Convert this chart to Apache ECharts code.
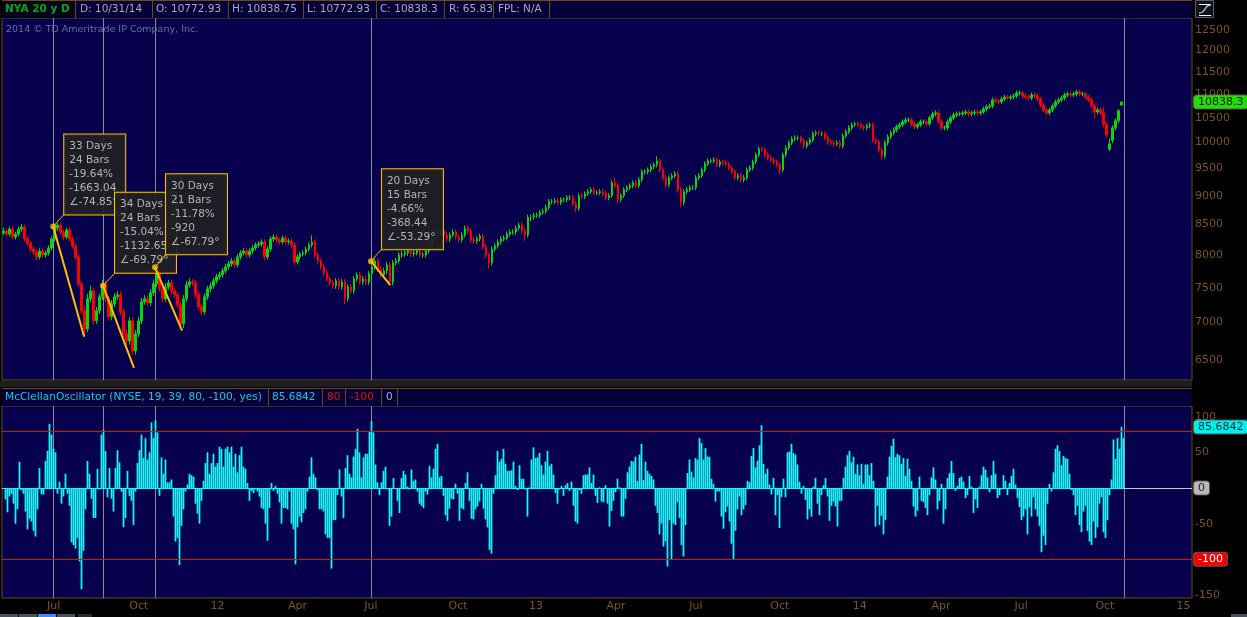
<!DOCTYPE html>
<html><head><meta charset="utf-8"><style>html,body{margin:0;padding:0;background:#000;overflow:hidden}#c{width:1247px;height:617px}</style>
<script src="https://cdn.jsdelivr.net/npm/echarts@6/dist/echarts.min.js"></script></head><body><div id="c"></div>
<script>
const closes=[8391,8342,8424,8293,8342,8424,8458,8260,8195,8099,
8051,7972,8067,8003,8035,8115,8260,8441,8491,8375,
8293,8408,8260,8147,7972,7558,7165,6913,7337,7454,
7024,7165,7366,7558,7337,7080,7265,7366,7395,7151,
6846,6750,7024,6618,6846,7024,7294,7337,7279,7425,
7558,7755,7484,7337,7513,7573,7454,7395,7251,6982,
7337,7543,7587,7573,7395,7222,7151,7366,7484,7528,
7603,7664,7694,7755,7817,7863,7910,7848,7972,8035,
8067,8003,8067,8115,8163,8179,8212,7972,8099,8260,
8293,8244,8212,8277,8212,8228,8163,7894,7972,8019,
8035,8099,8163,8212,8003,7910,7817,7725,7633,7573,
7528,7603,7513,7587,7337,7513,7454,7633,7694,7587,
7633,7587,7709,7817,7910,7786,7694,7755,7848,7587,
7879,7910,8003,8019,8035,8067,8019,8035,8067,8003,
8003,8067,8131,8260,8342,8375,8391,8326,8260,8326,
8375,8293,8244,8326,8441,8391,8244,8228,8260,8309,
8131,8003,7879,8099,8147,8212,8260,8277,8342,8375,
8375,8441,8491,8391,8326,8625,8625,8659,8659,8709,
8726,8794,8896,8896,8913,8879,8931,8931,8966,8966,
8862,8777,9002,8984,9038,9073,9109,9055,9055,9073,
9038,8966,9002,9235,9181,8931,9002,9109,9145,9181,
9235,9181,9290,9438,9438,9475,9532,9569,9645,9475,
9327,9199,9327,9364,9401,9109,8879,9073,9109,9145,
9145,9327,9364,9475,9588,9645,9645,9664,9569,9626,
9607,9588,9513,9438,9327,9364,9290,9327,9475,9513,
9626,9760,9876,9857,9760,9702,9664,9626,9569,9475,
9760,9896,9995,10074,10094,10094,10035,9935,9995,10054,
10174,10195,10174,10174,10094,10015,9995,9975,9995,9935,
10134,10215,10296,10358,10378,10358,10317,10296,10337,10358,
10054,10015,9857,9741,9995,10114,10195,10255,10317,10358,
10419,10460,10460,10378,10317,10358,10419,10419,10378,10502,
10585,10606,10419,10296,10296,10419,10502,10564,10585,10585,
10606,10627,10585,10606,10627,10606,10627,10690,10733,10754,
10882,10860,10839,10903,10946,10925,10946,10968,11033,11033,
10968,10946,10925,10990,10968,10903,10775,10669,10606,10669,
10754,10839,10882,10925,10990,11012,10990,11012,11055,11012,
11012,10946,10882,10754,10627,10669,10606,10358,10154,9975,
10296,10440,10650,10838.3];
const opens=[8360,8391,8342,8424,8293,8342,8424,8458,8260,8195,
8099,8051,7972,8067,8003,8035,8115,8260,8441,8491,
8375,8293,8408,8260,8147,7972,7558,7165,6913,7337,
7454,7024,7165,7366,7558,7337,7080,7265,7366,7395,
7151,6846,6750,7024,6618,6846,7024,7294,7337,7279,
7425,7558,7755,7484,7337,7513,7573,7454,7395,7251,
6982,7337,7543,7587,7573,7395,7222,7151,7366,7484,
7528,7603,7664,7694,7755,7817,7863,7910,7848,7972,
8035,8067,8003,8067,8115,8163,8179,8212,7972,8099,
8260,8293,8244,8212,8277,8212,8228,8163,7894,7972,
8019,8035,8099,8163,8212,8003,7910,7817,7725,7633,
7573,7528,7603,7513,7587,7337,7513,7454,7633,7694,
7587,7633,7587,7709,7817,7910,7786,7694,7755,7848,
7587,7879,7910,8003,8019,8035,8067,8019,8035,8067,
8003,8003,8067,8131,8260,8342,8375,8391,8326,8260,
8326,8375,8293,8244,8326,8441,8391,8244,8228,8260,
8309,8131,8003,7879,8099,8147,8212,8260,8277,8342,
8375,8375,8441,8491,8391,8326,8625,8625,8659,8659,
8709,8726,8794,8896,8896,8913,8879,8931,8931,8966,
8966,8862,8777,9002,8984,9038,9073,9109,9055,9055,
9073,9038,8966,9002,9235,9181,8931,9002,9109,9145,
9181,9235,9181,9290,9438,9438,9475,9532,9569,9645,
9475,9327,9199,9327,9364,9401,9109,8879,9073,9109,
9145,9145,9327,9364,9475,9588,9645,9645,9664,9569,
9626,9607,9588,9513,9438,9327,9364,9290,9327,9475,
9513,9626,9760,9876,9857,9760,9702,9664,9626,9569,
9475,9760,9896,9995,10074,10094,10094,10035,9935,9995,
10054,10174,10195,10174,10174,10094,10015,9995,9975,9995,
9935,10134,10215,10296,10358,10378,10358,10317,10296,10337,
10358,10054,10015,9857,9741,9995,10114,10195,10255,10317,
10358,10419,10460,10460,10378,10317,10358,10419,10419,10378,
10502,10585,10606,10419,10296,10296,10419,10502,10564,10585,
10585,10606,10627,10585,10606,10627,10606,10627,10690,10733,
10754,10882,10860,10839,10903,10946,10925,10946,10968,11033,
11033,10968,10946,10925,10990,10968,10903,10775,10669,10606,
10669,10754,10839,10882,10925,10990,11012,10990,11012,11055,
11012,11012,10946,10882,10754,10627,10669,10606,10358,9870,
10040,10296,10440,10772.93];
const highs=[8450,8430,8470,8460,8380,8470,8510,8500,8300,8230,
8140,8090,8110,8105,8075,8155,8300,8480,8530,8530,
8420,8445,8460,8305,8190,8015,7600,7230,7410,7530,
7500,7220,7410,7620,7600,7380,7320,7420,7450,7440,
7200,6900,7080,7070,6900,7080,7350,7390,7380,7480,
7620,7830,7800,7530,7570,7620,7620,7500,7440,7295,
7390,7600,7640,7630,7615,7440,7265,7415,7530,7575,
7650,7710,7740,7800,7865,7910,7955,7950,8015,8080,
8110,8105,8110,8160,8205,8225,8255,8255,8140,8305,
8340,8335,8285,8320,8315,8270,8270,8205,8015,8060,
8075,8140,8205,8320,8255,8045,7950,7860,7765,7675,
7615,7645,7645,7630,7630,7555,7555,7675,7735,7735,
7675,7675,7750,7860,7955,7955,7830,7800,7890,7890,
7925,7955,8045,8065,8080,8110,8110,8080,8110,8110,
8045,8110,8175,8305,8390,8420,8435,8435,8370,8370,
8420,8420,8335,8370,8485,8485,8435,8290,8305,8350,
8350,8175,8045,8140,8190,8255,8305,8320,8385,8420,
8420,8485,8535,8535,8435,8670,8670,8705,8705,8755,
8770,8840,8940,8945,8960,8955,8975,8975,9010,9015,
9010,8905,9050,9050,9080,9120,9155,9155,9100,9120,
9120,9080,9045,9280,9330,9225,9045,9155,9190,9225,
9280,9280,9335,9485,9485,9520,9580,9615,9730,9690,
9520,9375,9370,9410,9450,9450,9155,9120,9155,9190,
9190,9375,9410,9520,9635,9690,9690,9710,9710,9670,
9670,9650,9630,9560,9485,9410,9410,9375,9520,9560,
9670,9805,9925,9925,9905,9805,9750,9710,9670,9615,
9805,9945,10045,10125,10145,10145,10140,10080,10045,10100,
10225,10245,10245,10225,10225,10145,10065,10045,10045,10045,
10180,10265,10350,10410,10425,10425,10405,10365,10385,10405,
10405,10100,10065,9905,10045,10165,10245,10305,10365,10405,
10470,10510,10510,10510,10425,10405,10470,10470,10470,10550,
10635,10660,10655,10470,10345,10470,10550,10615,10635,10635,
10655,10675,10675,10655,10675,10675,10675,10740,10785,10805,
10935,10935,10910,10955,10995,10995,10995,11020,11085,11085,
11080,11020,10995,11040,11040,11020,10950,10825,10720,10720,
10805,10890,10935,10975,11040,11060,11060,11060,11105,11105,
11060,11060,10995,10930,10805,10720,10720,10720,10408,10080,
10345,10490,10680,10838.75];
const lows=[8320,8300,8300,8250,8250,8300,8380,8220,8150,8050,
8010,7920,7930,7960,7960,7995,8075,8220,8390,8330,
8250,8255,8220,8105,7930,7510,7120,6820,6870,7290,
6970,6980,7120,7320,7290,7030,7030,7220,7320,7100,
6800,6700,6700,6570,6570,6800,6980,7250,7230,7230,
7380,7510,7440,7290,7290,7470,7410,7350,7210,6930,
6920,7290,7500,7530,7350,7170,7105,7110,7320,7440,
7485,7560,7620,7650,7715,7775,7820,7805,7810,7930,
7995,7960,7960,8025,8075,8120,8135,7925,7930,8055,
8220,8205,8170,8175,8170,8170,8120,7850,7855,7930,
7980,7995,8060,8125,7960,7865,7775,7682,7590,7525,
7485,7485,7470,7470,7260,7295,7410,7410,7590,7545,
7545,7545,7545,7665,7775,7740,7650,7650,7710,7540,
7540,7835,7870,7960,7975,7990,7975,7975,7995,7960,
7955,7960,8025,8090,8215,8300,8330,8285,8215,8215,
8285,8250,8200,8200,8285,8350,8200,8185,8185,8220,
8090,7960,7790,7835,8055,8105,8170,8220,8235,8300,
8330,8330,8400,8350,8230,8285,8560,8580,8615,8615,
8665,8685,8750,8850,8850,8835,8835,8885,8885,8920,
8820,8710,8735,8940,8940,8995,9030,9010,9010,9010,
8995,8920,8920,8960,9135,8870,8885,8960,9065,9100,
9135,9135,9135,9245,9390,9390,9430,9485,9525,9430,
9280,9150,9150,9280,9320,9060,8800,8830,9030,9065,
9100,9100,9280,9320,9430,9545,9600,9600,9525,9525,
9560,9540,9465,9390,9280,9280,9240,9240,9280,9430,
9465,9580,9715,9810,9715,9655,9620,9580,9525,9390,
9430,9715,9850,9950,10025,10045,9985,9885,9885,9950,
10010,10125,10125,10125,10045,9965,9945,9925,9925,9885,
9885,10085,10170,10250,10310,10310,10270,10250,10250,10290,
10005,9965,9810,9670,9690,9945,10065,10145,10205,10270,
10310,10370,10410,10330,10270,10270,10310,10370,10330,10330,
10455,10535,10370,10245,10245,10245,10370,10455,10515,10535,
10535,10555,10535,10535,10555,10555,10555,10580,10640,10685,
10705,10810,10790,10790,10855,10875,10875,10895,10920,10980,
10920,10895,10875,10875,10920,10855,10725,10620,10560,10555,
10620,10705,10790,10835,10875,10940,10940,10940,10960,10960,
10960,10895,10830,10705,10490,10575,10555,10305,10100,9830,
9990,10245,10390,10772.93];
const oscillator=[0,-16,-34,-12,-8,-22,-50,-30,37,-3,
-8,-33,-58,-43,-47,-60,-68,-30,28,-9,
-9,38,52,90,75,55,50,-8,9,-22,
-12,20,-8,-25,-76,-80,-85,-70,-103,-142,
-88,-30,38,20,-15,-42,-42,27,-2,75,
82,52,-13,28,-15,-33,28,53,36,-5,
-55,-42,24,-11,-18,-52,-5,35,53,75,
42,70,40,50,92,70,95,78,-11,43,
20,40,8,8,12,-40,-75,-70,-108,-53,
-30,-5,5,20,18,16,-22,-36,-50,-18,
10,35,50,20,35,48,30,35,58,55,
30,55,58,50,58,30,48,22,46,58,
30,27,7,-18,-4,-7,-2,-5,-12,-28,
-30,-50,-74,-28,7,-4,3,-8,-20,-50,
-28,-28,-30,-5,-50,-58,-107,-55,-40,-48,
-35,-30,-5,16,43,20,15,-3,-30,-30,
-33,-65,-70,-70,-113,-45,-45,-10,26,-12,
-42,28,46,20,15,44,55,83,50,15,
43,48,48,80,94,78,33,8,-10,8,
24,30,-2,-53,-40,14,0,-18,-35,14,
24,19,2,-2,26,10,12,-5,-22,-25,
-28,-5,-9,31,15,27,55,62,15,17,
-11,-38,-46,-29,-15,-16,6,-8,-46,-28,
-30,7,22,-18,-43,-44,-30,-26,-19,6,
-29,-44,-55,-87,-92,-8,18,52,37,41,
55,34,24,24,25,37,3,-3,32,13,
13,-2,-40,1,40,57,42,43,49,32,
19,37,52,31,34,19,-7,-22,-2,3,
-11,4,7,-4,9,-25,-47,-50,-3,-8,
18,19,19,29,7,19,-11,-21,1,-19,
-20,4,-22,-54,-32,-18,-6,13,1,-40,
-40,-15,22,30,38,37,44,10,47,62,
11,37,24,20,17,12,-25,-35,-65,-50,
-82,-75,-110,-45,-100,-50,-52,-20,-42,-80,
-96,-52,21,40,23,15,42,40,70,63,
40,56,44,44,13,6,-19,-5,-5,-40,
-57,-34,-26,-47,-78,-100,-60,-30,-12,-38,
-30,-24,10,8,45,56,29,38,60,88,
34,20,27,5,-9,14,-38,-10,-56,-13,
13,-13,50,51,62,49,47,33,9,-8,
3,-17,-44,-30,-40,2,14,-22,-38,-10,
4,14,-12,-46,-25,-19,-26,-54,-18,-18,
14,30,46,52,36,44,20,33,18,34,
6,33,33,18,35,10,-54,-25,-52,-39,
-65,-45,16,44,59,69,43,48,46,34,
42,17,41,27,10,-26,-40,-32,16,-18,
-20,-28,-38,-10,15,29,12,-30,-18,6,
-50,-30,14,21,38,21,-4,3,14,16,
9,-14,-10,17,2,-35,-16,-28,2,18,
30,26,15,-6,18,38,20,-14,-10,-2,
18,10,-10,7,17,27,5,-14,-27,-45,
-40,-30,-65,-27,-40,-13,-30,-40,-53,-90,
-67,-80,-22,6,-5,22,55,60,52,32,
45,42,41,20,-3,-10,-38,-25,-52,-62,
-33,-25,-60,-75,-80,-47,-70,-55,-22,-13,
-62,-70,-45,-10,12,68,41,70,55,85.68,
70];
const priceTicks=[6500,7000,7500,8000,8500,9000,9500,10000,10500,11000,11500,12000,12500];
const oscTicks=[-150,-100,-50,0,50,100];
const dateTickBars=[40,106,167,229,286,353.5,414,476,538,603,665,728,790,855,916];
const dateTickLabels=['Jul','Oct','12','Apr','Jul','Oct','13','Apr','Jul','Oct','14','Apr','Jul','Oct','15'];
const cursorBars=[39.7,78.3,118.6,286,870];
const trendStartBar=[39.7,78.3,118.6,286];
const trendEndBar=[63.7,102.3,139.6,301];
const trendStartPrice=[8467.6,7531,7810,7906];
const trendEndPrice=[6804.6,6398.4,6890,7537.6];
const leaderBar=[48.1,87.6,127.1,294.6];
const leaderPrice=[8676,7724,8019,8099];
const calloutDays=['33 Days','34 Days','30 Days','20 Days'];
const calloutBars=['24 Bars','24 Bars','21 Bars','15 Bars'];
const calloutPct=['-19.64%','-15.04%','-11.78%','-4.66%'];
const calloutPts=['-1663.04','-1132.65','-920','-368.44'];
const calloutAngle=['∠-74.85°','∠-69.79°','∠-67.79°','∠-53.29°'];
const calloutOffset=[[11,-92],[12,-93],[11,-93],[11,-92]];
const headerCells=['D: 10/31/14','O: 10772.93','H: 10838.75','L: 10772.93','C: 10838.3','R: 65.83','FPL: N/A'];

const FONT='"DejaVu Sans"',BROWN='#7a5526',EDGE='#6e4a18',PANE='#07004d',STRIP='#04003a',Y='#ffc000';
const T=(text,x,y,fill,extra)=>({type:'text',x,y,silent:true,z:20,style:Object.assign({text,fill,font:'10.5px '+FONT,textVerticalAlign:'middle'},extra||{})});
const R=(x,y,w,h,fill,z)=>({type:'rect',silent:true,z:z||1,shape:{x,y,width:w,height:h},style:{fill}});
const headX=[80,156,232,307,380,449,498],sepX=[75,152,228,303,376,444,493,549];
const gfx=[R(2,0,1190,18,STRIP),R(2,0,73,18,'#040418'),R(2,0,1190,1,EDGE,3),
 T('NYA 20 y D',5,9,'#00a820',{font:'bold 10.5px '+FONT})];
headerCells.forEach((t,i)=>gfx.push(T(t,headX[i],9,'#a9a9b4')));
sepX.forEach(x=>gfx.push(R(x,0,1,18,EDGE,3)));
gfx.push(T('2014 © TD Ameritrade IP Company, Inc.',6,30,'#6c6ca4',{font:'9.5px '+FONT}));
gfx.push(R(0,381,1192,6,'#1e1e1e'),R(2,388,1190,18,STRIP),R(2,388,1190,1,EDGE,3));
gfx.push(T('McClellanOscillator (NYSE, 19, 39, 80, -100, yes)',5,397,'#18c8d8',{font:'10.6px '+FONT}),
 T('85.6842',272,397,'#18c8d8'),T('80',327,397,'#e01010'),T('-100',350,397,'#e01010'),T('0',386,397,'#b0b0b0'));
[268,322,345,381,397].forEach(x=>gfx.push(R(x,388,1,18,EDGE,3)));
gfx.push({type:'rect',silent:true,z:5,shape:{x:1195.5,y:0.5,width:18,height:17},style:{fill:'#111',stroke:'#556070'}});
gfx.push(R(1199,4,12,1,'#fff',6),R(1199,15,12,1,'#fff',6));
gfx.push({type:'bezierCurve',silent:true,z:6,shape:{x1:1199,y1:13,x2:1211,y2:5,cpx1:1207,cpy1:13,cpx2:1203,cpy2:5},style:{stroke:'#8ecbff',fill:null,lineWidth:1.3}});
[[0,18,'#47505c'],[19,18,'#47505c'],[38,18,'#3a8cff'],[57,18,'#47505c'],[78,14,'#2a2a2a'],[1231,16,'#47505c']].forEach(b=>gfx.push(R(b[0],614,b[1],3,b[2],4)));

const slotsPrice=Array.from({length:397},(_,i)=>i),slotsOsc=Array.from({length:595},(_,i)=>i);
const tag=(v,text,bg,fg)=>({yAxis:v,lineStyle:{color:'rgba(0,0,0,0)',opacity:1},label:{show:true,position:'end',distance:2,formatter:text,backgroundColor:bg,color:fg,fontFamily:FONT,fontSize:11,padding:[1,4,1,4],borderRadius:3,borderColor:'rgba(255,255,255,.35)',borderWidth:1,align:'left'}});
const vlines=()=>({silent:true,symbol:'none',animation:false,z:1,lineStyle:{color:'#8a8a9c',width:1,type:'solid'},label:{show:false},data:cursorBars.map(b=>({xAxis:b}))});

const series=[
 {type:'candlestick',xAxisIndex:0,yAxisIndex:0,z:2,barWidth:2,
  data:closes.map((c,i)=>[opens[i],c,lows[i],highs[i]]),
  itemStyle:{color:'#08d808',color0:'#ff0000',borderColor:'#08d808',borderColor0:'#ff0000',borderColorDoji:'#08d808',borderWidth:1},
  markLine:{silent:true,symbol:'none',animation:false,z:12,data:[tag(10838.3,'10838.3','#22dd08','#001800')]}},
 {type:'bar',name:'spacer',xAxisIndex:1,yAxisIndex:1,z:2,barWidth:0.25,barGap:0,data:[]},
 {type:'bar',xAxisIndex:1,yAxisIndex:1,z:2,barWidth:1.75,barGap:0,itemStyle:{color:'#00ffff'},data:oscillator,
  markLine:{silent:true,symbol:'none',animation:false,z:3,lineStyle:{width:1,type:'solid'},data:[
    Object.assign(tag(0,'0','#b8b8b8','#222'),{lineStyle:{color:'#c8c8c8',width:1,opacity:1}}),
    {yAxis:80,lineStyle:{color:'#dd1010',width:1},label:{show:false}},
    Object.assign(tag(-100,'-100','#f00000','#fff'),{lineStyle:{color:'#dd1010',width:1,opacity:1}}),
    tag(85.68,'85.6842','#00f0f0','#003030'),
    [{coord:[0,0],lineStyle:{color:'#00ffff',width:1},label:{show:false}},{coord:[560,0]}]
  ]}},
 {type:'line',name:'cursors-top',xAxisIndex:2,yAxisIndex:0,data:[],z:1,markLine:vlines()},
 {type:'line',name:'cursors-bottom',xAxisIndex:3,yAxisIndex:1,data:[],z:1,markLine:vlines()},
 {type:'line',name:'callouts',xAxisIndex:2,yAxisIndex:0,data:[],z:5,
  markPoint:{silent:true,animation:false,z:5,symbol:'circle',symbolSize:1,itemStyle:{color:'rgba(0,0,0,0)'},
   data:trendStartBar.map((b,i)=>({coord:[b,trendStartPrice[i]],label:{show:true,position:'inside',align:'left',verticalAlign:'top',offset:calloutOffset[i],
     formatter:[calloutDays[i],calloutBars[i],calloutPct[i],calloutPts[i],calloutAngle[i]].join('\n'),
     color:'#b4b4b4',fontFamily:FONT,fontSize:10.5,lineHeight:14,backgroundColor:'rgba(32,32,36,.93)',borderColor:Y,borderWidth:1,padding:[5,5,6,5],width:51,height:69}}))}}
];
trendStartBar.forEach((b,i)=>{
 series.push({type:'line',xAxisIndex:2,yAxisIndex:0,z:6,silent:true,symbol:'none',animation:false,lineStyle:{color:Y,width:2},data:[[b,trendStartPrice[i]],[trendEndBar[i],trendEndPrice[i]]]});
 series.push({type:'line',xAxisIndex:2,yAxisIndex:0,z:6,silent:true,symbol:'none',animation:false,lineStyle:{color:Y,width:1},data:[[b,trendStartPrice[i]],[leaderBar[i],leaderPrice[i]]]});
});
series.push({type:'scatter',xAxisIndex:2,yAxisIndex:0,z:7,silent:true,symbolSize:6,itemStyle:{color:Y},data:trendStartBar.map((b,i)=>[b,trendStartPrice[i]])});

const chart=echarts.init(document.getElementById('c'),null,{renderer:'canvas',width:1247,height:617});
chart.setOption({
 animation:false,backgroundColor:'#000',tooltip:{show:false},legend:{show:false},
 textStyle:{fontFamily:FONT},
 graphic:gfx,
 grid:[{left:2,top:18,width:1190,height:362,show:true,backgroundColor:PANE,borderColor:EDGE,borderWidth:1},
       {left:2,top:406,width:1190,height:192,show:true,backgroundColor:PANE,borderColor:EDGE,borderWidth:1}],
 xAxis:[
  {type:'category',gridIndex:0,data:slotsPrice,show:false},
  {type:'category',gridIndex:1,data:slotsOsc,show:false},
  {type:'value',gridIndex:0,min:0,max:922.5,show:false,splitLine:{show:false}},
  {type:'value',gridIndex:1,min:0,max:922.5,position:'bottom',axisLine:{show:false},axisTick:{show:false},splitLine:{show:false},
   axisLabel:{show:true,color:BROWN,fontFamily:FONT,fontSize:11,margin:3,customValues:dateTickBars,hideOverlap:false,showMinLabel:true,showMaxLabel:true,
     formatter:v=>{const k=dateTickBars.indexOf(v);return k<0?'':dateTickLabels[k];}}}
 ],
 yAxis:[
  {type:'log',logBase:10,gridIndex:0,position:'right',min:6247,max:12800,axisLine:{show:false},axisTick:{show:false},splitLine:{show:false},minorTick:{show:false},
   axisLabel:{color:BROWN,fontFamily:FONT,fontSize:11,margin:3,customValues:priceTicks,showMinLabel:true,showMaxLabel:true,formatter:v=>String(Math.round(v))}},
  {type:'value',gridIndex:1,position:'right',min:-154.2,max:115,axisLine:{show:false},axisTick:{show:false},splitLine:{show:false},
   axisLabel:{color:BROWN,fontFamily:FONT,fontSize:11,margin:3,customValues:oscTicks,showMinLabel:true,showMaxLabel:true,formatter:v=>String(v)}}
 ],
 series
});
</script></body></html>
